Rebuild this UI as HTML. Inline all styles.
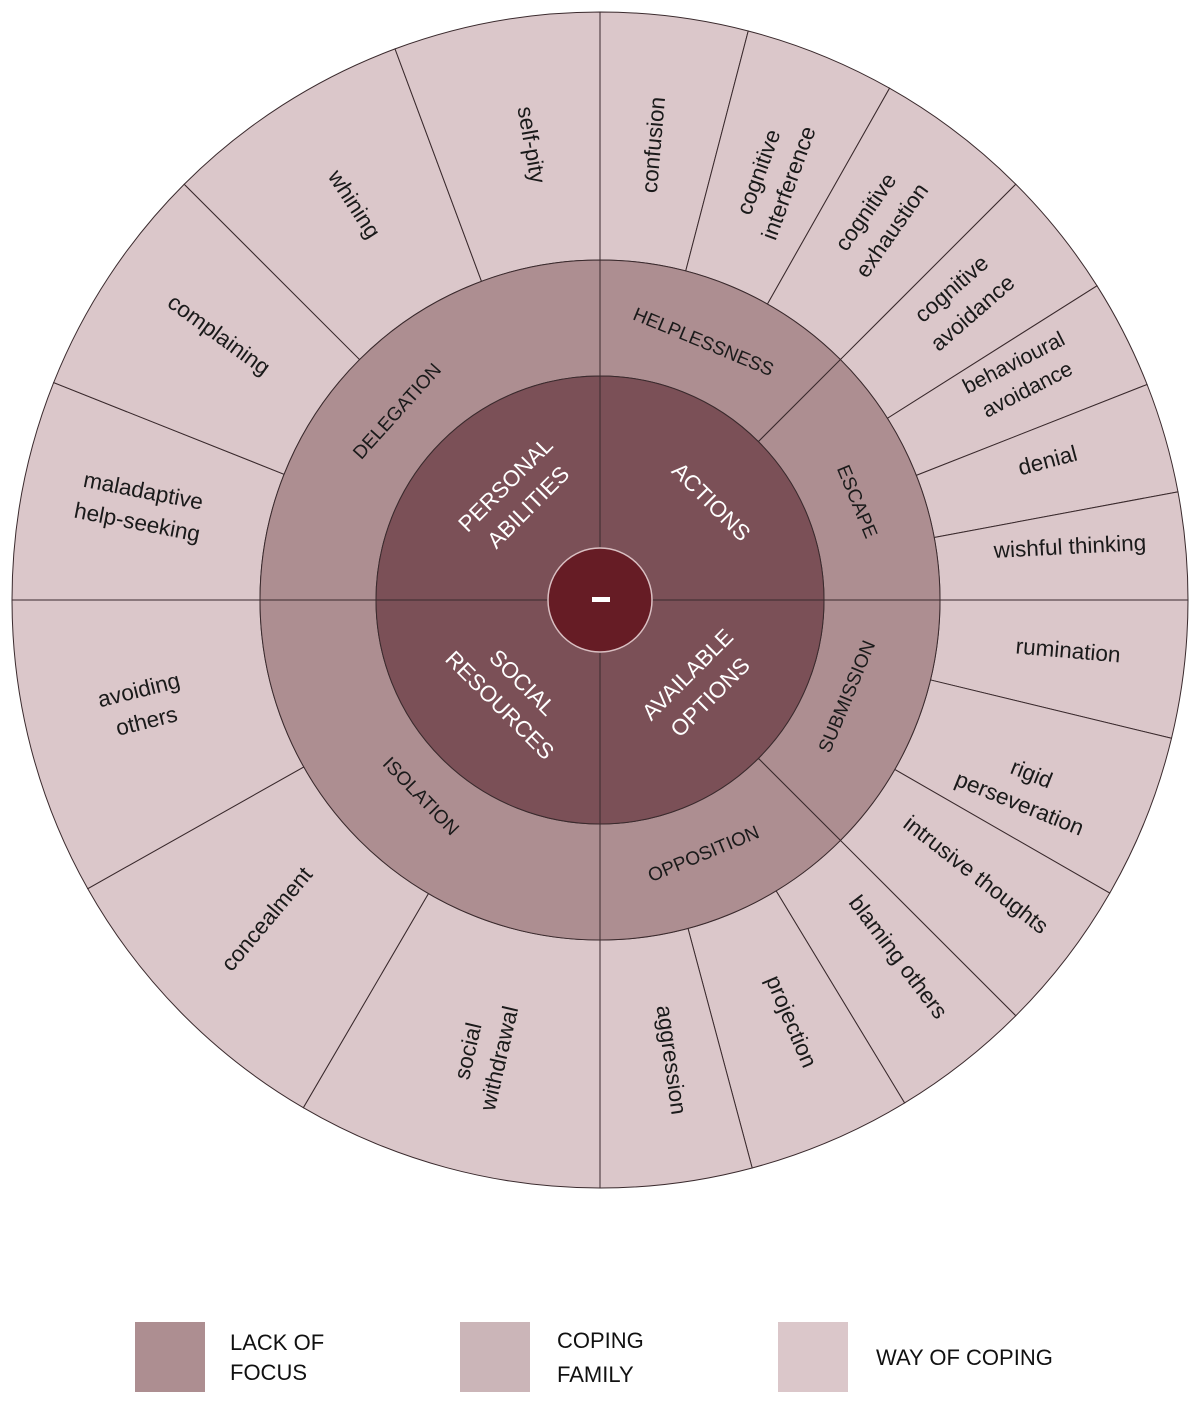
<!DOCTYPE html>
<html><head><meta charset="utf-8"><style>
html,body{margin:0;padding:0;background:#fff;}
svg{display:block;}
text{font-family:"Liberation Sans",sans-serif;}
</style></head><body>
<svg id="s" width="1200" height="1403" viewBox="0 0 1200 1403" xmlns="http://www.w3.org/2000/svg">
<g id="g"></g>
<g font-size="22.5" fill="#1a1a1a" text-anchor="middle" dominant-baseline="middle">
<text transform="translate(530,145) rotate(80)">self-pity</text>
<text transform="translate(353,205) rotate(57)">whining</text>
<text transform="translate(218,336) rotate(36)">complaining</text>
<text transform="translate(140,508) rotate(11)"><tspan x="0" y="-16">maladaptive</tspan><tspan x="0" y="16">help-seeking</tspan></text>
<text transform="translate(143,707) rotate(-14)"><tspan x="0" y="-16">avoiding</tspan><tspan x="0" y="16">others</tspan></text>
<text transform="translate(268,920) rotate(-50)">concealment</text>
<text transform="translate(485,1055) rotate(-77)"><tspan x="0" y="-16">social</tspan><tspan x="0" y="16">withdrawal</tspan></text>
<text transform="translate(670,1060) rotate(82)">aggression</text>
<text transform="translate(790,1022) rotate(67)">projection</text>
<text transform="translate(897,958) rotate(53)">blaming others</text>
<text transform="translate(975,876) rotate(38)">intrusive thoughts</text>
<text transform="translate(1025,790) rotate(22)"><tspan x="0" y="-16">rigid</tspan><tspan x="0" y="16">perseveration</tspan></text>
<text transform="translate(1068,652) rotate(5)">rumination</text>
<text transform="translate(1070,548) rotate(-3)">wishful thinking</text>
<text transform="translate(1048,462) rotate(-15)">denial</text>
<text transform="translate(1021,377) rotate(-27)" font-size="21.5"><tspan x="0" y="-15">behavioural</tspan><tspan x="0" y="15">avoidance</tspan></text>
<text transform="translate(963,302) rotate(-41)"><tspan x="0" y="-16">cognitive</tspan><tspan x="0" y="16">avoidance</tspan></text>
<text transform="translate(880,222) rotate(-55)"><tspan x="0" y="-16">cognitive</tspan><tspan x="0" y="16">exhaustion</tspan></text>
<text transform="translate(775,178) rotate(-70)"><tspan x="0" y="-16">cognitive</tspan><tspan x="0" y="16">interference</tspan></text>
<text transform="translate(655,145) rotate(-85)">confusion</text>
</g>
<g font-size="19" fill="#1a1a1a" text-anchor="middle" dominant-baseline="middle">
<text transform="translate(398,412) rotate(-48)">DELEGATION</text>
<text transform="translate(703,343) rotate(22.5)">HELPLESSNESS</text>
<text transform="translate(856,502) rotate(67.5)">ESCAPE</text>
<text transform="translate(848,697) rotate(-67.5)">SUBMISSION</text>
<text transform="translate(704,855) rotate(-22.5)">OPPOSITION</text>
<text transform="translate(420,797) rotate(46)">ISOLATION</text>
</g>
<g font-size="22.5" fill="#fff" text-anchor="middle" dominant-baseline="middle">
<text transform="translate(518,497) rotate(-45)"><tspan x="0" y="-16">PERSONAL</tspan><tspan x="0" y="16">ABILITIES</tspan></text>
<text transform="translate(710,503) rotate(45)">ACTIONS</text>
<text transform="translate(510,695) rotate(45)"><tspan x="0" y="-16">SOCIAL</tspan><tspan x="0" y="16">RESOURCES</tspan></text>
<text transform="translate(700,687) rotate(-45)"><tspan x="0" y="-16">AVAILABLE</tspan><tspan x="0" y="16">OPTIONS</tspan></text>
</g>
<circle cx="600" cy="600" r="52" fill="#661c25" stroke="#d9bfc2" stroke-width="1.5"/>
<rect x="592" y="597" width="18" height="5" fill="#fff"/>
<rect x="135" y="1322" width="70" height="70" fill="#ad8e91"/>
<rect x="460" y="1322" width="70" height="70" fill="#cbb5b8"/>
<rect x="778" y="1322" width="70" height="70" fill="#dbc7ca"/>
<g font-size="22" fill="#111">
<text x="230" y="1350">LACK OF</text><text x="230" y="1380">FOCUS</text>
<text x="557" y="1348">COPING</text><text x="557" y="1382">FAMILY</text>
<text x="876" y="1365">WAY OF COPING</text>
</g>
</svg>
<script>
var C=600,R3=588,R2=340,R1=224;
function pt(r,a){a=a*Math.PI/180;return [C+r*Math.sin(a),C-r*Math.cos(a)];}
function seg(r0,r1,a0,a1,fill){
 var p1=pt(r1,a0),p2=pt(r1,a1),p3=pt(r0,a1),p4=pt(r0,a0);var l=(a1-a0)>180?1:0;
 var d="M"+p4+"L"+p1+"A"+r1+","+r1+" 0 "+l+" 1 "+p2+"L"+p3;
 if(r0>0)d+="A"+r0+","+r0+" 0 "+l+" 0 "+p4;
 d+="Z";
 return '<path d="'+d+'" fill="'+fill+'" stroke="#3a2a2d" stroke-width="1"/>';
}
var h="";
var outer=[0,14.6,29.5,45,57.7,68.5,79.4,90,103.6,119.9,135,148.8,165,180,210.3,240.6,270,291.7,315,339.6,360];
for(var i=0;i<outer.length-1;i++)h+=seg(R2,R3,outer[i],outer[i+1],"#dbc7ca");
var mid=[0,45,90,135,180,270,360];
for(var i=0;i<mid.length-1;i++)h+=seg(R1,R2,mid[i],mid[i+1],"#ad8e91");
for(var i=0;i<4;i++)h+=seg(0,R1,i*90,i*90+90,"#7b5057");
document.getElementById("g").innerHTML=h;
</script>
</body></html>
